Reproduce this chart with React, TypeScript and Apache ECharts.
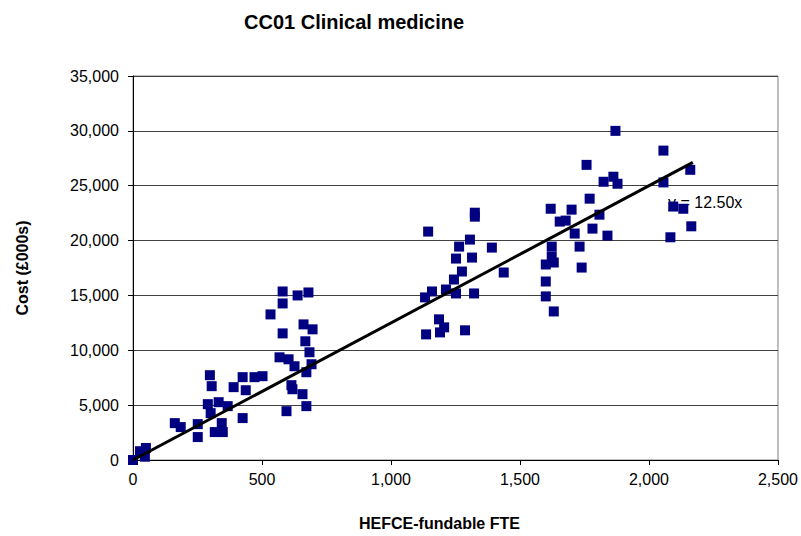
import React, { useEffect, useRef } from "react";
import * as echarts from "echarts";

const titleText = "CC01 Clinical medicine";
const xAxisName = "HEFCE-fundable FTE";
const yAxisName = "Cost (£000s)";
const trendLabel = "y = 12.50x";
const trendSlope = 12.5;
const trendXMax = 2170;

const fteValues: number[] = [
  0, 27, 50, 46, 162, 185, 251, 251, 290, 298, 305, 301, 317, 332, 344, 348, 367, 390, 425, 437, 425, 471, 502,
  533, 568, 580, 580, 580, 603, 595, 614, 618, 626, 638, 657, 661, 668, 672, 672, 680, 684, 692, 696,
  1132, 1136, 1144, 1159, 1186, 1190, 1206, 1213, 1244, 1252, 1252, 1264, 1275, 1287, 1306, 1314, 1322, 1325, 1325, 1391, 1437,
  1600, 1600, 1600, 1619, 1623, 1623, 1631, 1631, 1654, 1677, 1700, 1712, 1731, 1739, 1758, 1770, 1781, 1808, 1824, 1839, 1862, 1870, 1878,
  2056, 2056, 2083, 2094, 2133, 2160, 2164,
];

const costValues: number[] = [
  0, 800, 1100, 300, 3360, 3000, 3270, 2090, 5090, 7730, 6730, 4270, 2545, 5270, 3360, 2545, 4910, 6640, 7550, 6360, 3820, 7550, 7640,
  13270, 9360, 15360, 14270, 11540, 9180, 4450, 6820, 6450, 8545, 15000, 6000, 12360, 10820, 8000, 4910, 15270, 9820, 8730, 11910,
  14820, 11450, 20820, 15360, 12820, 11630, 12090, 15540, 16450, 18360, 15180, 19450, 17180, 11820, 20090, 18450, 15180, 22180, 22540, 19360, 17090,
  17820, 16270, 14910, 22900, 19450, 18540, 18000, 13540, 21730, 21820, 22820, 20640, 19450, 17540, 26900, 23820, 21090, 22360, 25360, 20450, 25820, 30000, 25180,
  28200, 25300, 20300, 23100, 22900, 26450, 21300,
];

const xTicks = { min: 0, max: 2500, interval: 500 };
const yTicks = { min: 0, max: 35000, interval: 5000 };

export default function App() {
  const ref = useRef<HTMLDivElement>(null);
  useEffect(() => {
    if (!ref.current) return;
    const chart = echarts.init(ref.current, undefined, { renderer: "svg" });
    const points = fteValues.map((x, i) => [x, costValues[i]]);
    const trend = [
      [0, 0],
      [trendXMax, trendXMax * trendSlope],
    ];
    const fmt = (v: number) => v.toLocaleString("en-US");
    const font = "Arial, 'Liberation Sans', sans-serif";
    chart.setOption({
      animation: false,
      backgroundColor: "#ffffff",
      textStyle: { fontFamily: font },
      title: {
        text: titleText,
        left: 239,
        top: 7,
        textStyle: { fontSize: 20, fontWeight: "bold", color: "#000", fontFamily: font },
      },
      grid: {
        left: 133,
        right: 21,
        top: 76,
        bottom: 75,
        show: true,
        borderColor: "#808080",
        borderWidth: 1,
      },
      xAxis: {
        type: "value",
        min: xTicks.min,
        max: xTicks.max,
        interval: xTicks.interval,
        name: xAxisName,
        nameLocation: "middle",
        nameGap: 55,
        nameTextStyle: { fontSize: 16, fontWeight: "bold", color: "#000", fontFamily: font, padding: [0, 32, 0, 0] },
        axisLine: { show: true, lineStyle: { color: "#000", width: 1 } },
        axisTick: { show: true, length: 5, lineStyle: { color: "#000" } },
        axisLabel: { fontSize: 16, color: "#000", margin: 11, formatter: fmt, fontFamily: font },
        splitLine: { show: false },
      },
      yAxis: {
        type: "value",
        min: yTicks.min,
        max: yTicks.max,
        interval: yTicks.interval,
        name: yAxisName,
        nameLocation: "middle",
        nameGap: 103,
        nameRotate: 90,
        nameTextStyle: { fontSize: 16, fontWeight: "bold", color: "#000", fontFamily: font },
        axisLine: { show: true, lineStyle: { color: "#000", width: 1 } },
        axisTick: { show: true, length: 5, lineStyle: { color: "#000" } },
        axisLabel: { fontSize: 16, color: "#000", margin: 14, formatter: fmt, fontFamily: font },
        splitLine: { show: true, lineStyle: { color: "#404040", width: 1 } },
      },
      series: [
        {
          type: "scatter",
          data: points,
          symbol: "rect",
          symbolSize: 10,
          itemStyle: { color: "#000080", opacity: 1 },
          z: 2,
        },
        {
          type: "line",
          data: trend,
          symbol: "none",
          lineStyle: { color: "#000", width: 3 },
          z: 3,
        },
      ],
      graphic: [
        {
          type: "text",
          left: 668,
          top: 194,
          z: 1,
          style: { text: trendLabel, fill: "#000", font: `16px ${font}` },
        },
      ],
    });
    return () => chart.dispose();
  }, []);
  return <div ref={ref} style={{ position: "fixed", left: 0, top: 0, width: 801, height: 536 }} />;
}
